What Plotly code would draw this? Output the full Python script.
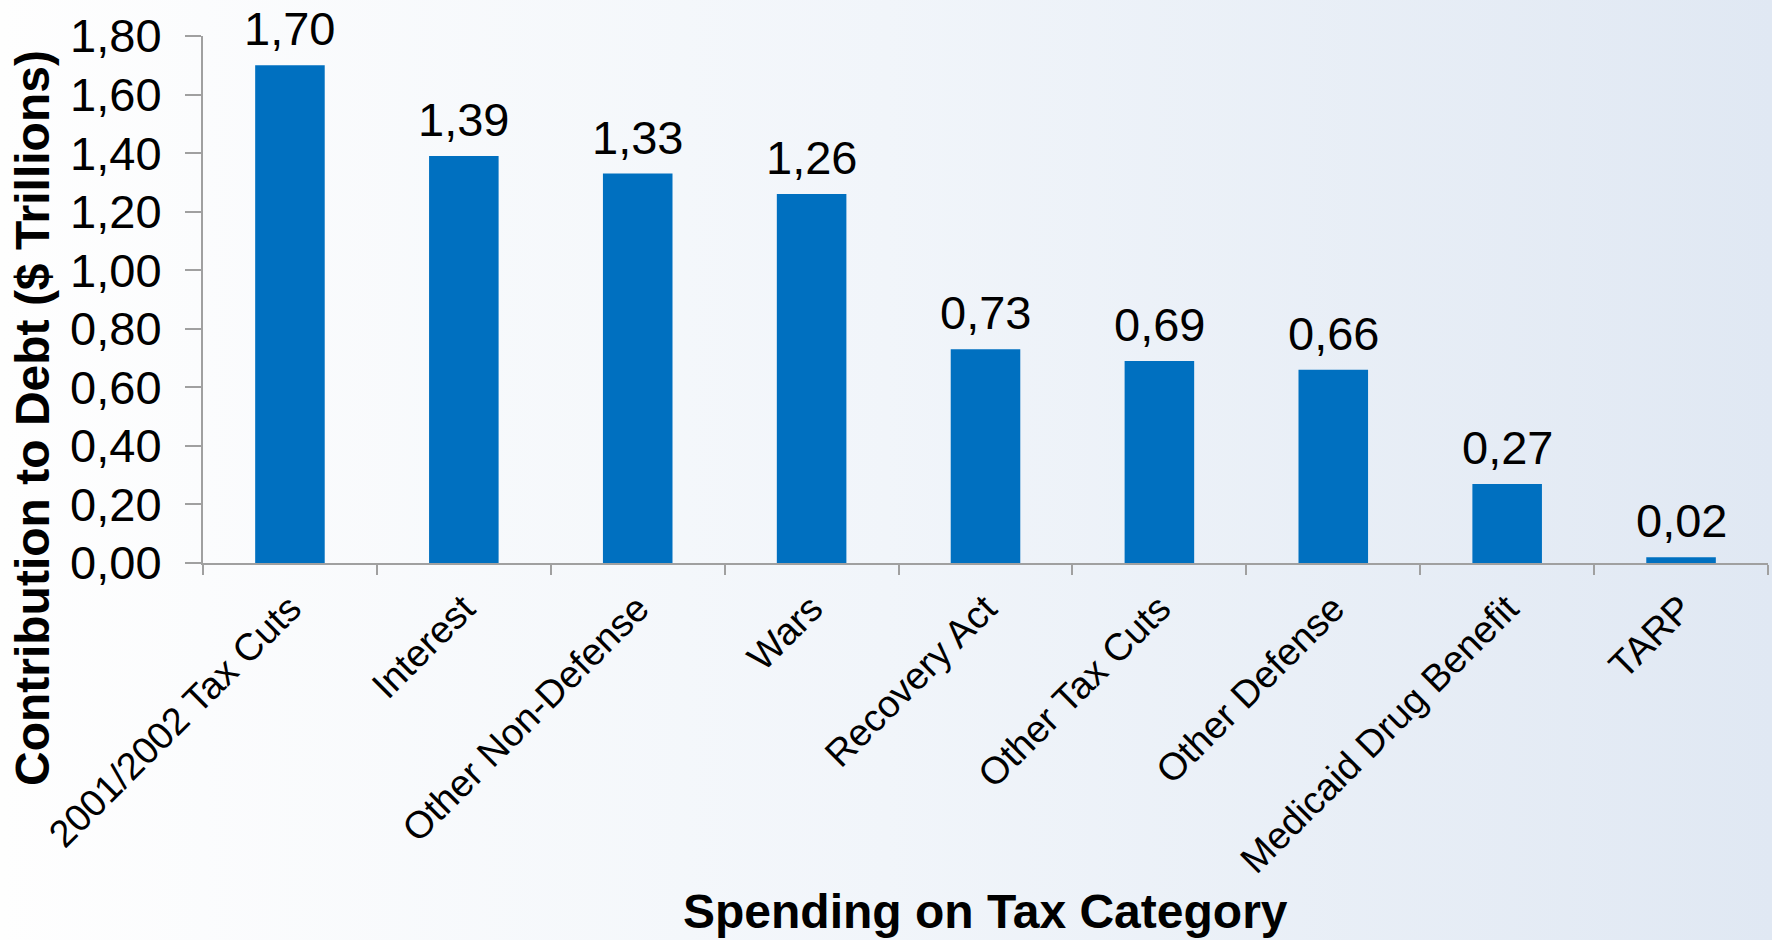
import plotly.graph_objects as go

# Contribution of each policy to the debt, in trillions of dollars
categories = [
    "2001/2002 Tax Cuts",
    "Interest",
    "Other Non-Defense",
    "Wars",
    "Recovery Act",
    "Other Tax Cuts",
    "Other Defense",
    "Medicaid Drug Benefit",
    "TARP",
]
debt_contribution = [1.70, 1.39, 1.33, 1.26, 0.73, 0.69, 0.66, 0.27, 0.02]
y_tick_values = [0.0, 0.2, 0.4, 0.6, 0.8, 1.0, 1.2, 1.4, 1.6, 1.8]

W, H = 1772, 940
M_L, M_R, M_T, M_B = 203, 4, 36, 377
PW, PH = W - M_L - M_R, H - M_T - M_B

FONT = "Liberation Sans, Arial, sans-serif"
AXIS_GRAY = "#a0a0a0"
BAR_BLUE = "#0070c0"

# Soft left-to-right background wash behind the whole figure
gradient_svg = (
    "<svg xmlns='http://www.w3.org/2000/svg' width='100' height='100' preserveAspectRatio='none'>"
    "<defs><linearGradient id='g' x1='0' y1='0' x2='1' y2='0'>"
    "<stop offset='0' stop-color='#fefefe'/>"
    "<stop offset='0.5' stop-color='#f1f5fa'/>"
    "<stop offset='1' stop-color='#e0e8f3'/>"
    "</linearGradient></defs>"
    "<rect width='100' height='100' fill='url(#g)'/></svg>"
)
gradient_uri = "data:image/svg+xml;charset=utf-8," + gradient_svg.replace("<", "%3C").replace(">", "%3E").replace("#", "%23")

fig = go.Figure(
    go.Bar(
        x=categories,
        y=debt_contribution,
        marker=dict(color=BAR_BLUE, line=dict(width=0)),
        width=0.4,
        cliponaxis=False,
        hoverinfo="skip",
    )
)

# Value labels above each bar, formatted with a decimal comma
value_labels = [
    dict(
        x=cat,
        y=val,
        xref="x",
        yref="y",
        text=f"{val:.2f}".replace(".", ","),
        showarrow=False,
        xanchor="center",
        yanchor="bottom",
        yshift=8,
        font=dict(family=FONT, size=47, color="black"),
    )
    for cat, val in zip(categories, debt_contribution)
]

axis_titles = [
    dict(
        text="<b>Contribution to Debt ($ Trillions)</b>",
        textangle=-90,
        xref="paper",
        yref="paper",
        x=(32 - M_L) / PW,
        y=(M_T + PH - 418) / PH,
        xanchor="center",
        yanchor="middle",
        showarrow=False,
        font=dict(family=FONT, size=48, color="black"),
    ),
    dict(
        text="<b>Spending on Tax Category</b>",
        xref="paper",
        yref="paper",
        x=0.5,
        y=(M_T + PH - 912) / PH,
        xanchor="center",
        yanchor="middle",
        showarrow=False,
        font=dict(family=FONT, size=48, color="black"),
    ),
]

fig.update_layout(
    width=W,
    height=H,
    margin=dict(l=M_L, r=M_R, t=M_T, b=M_B, autoexpand=False),
    paper_bgcolor="rgba(0,0,0,0)",
    plot_bgcolor="rgba(0,0,0,0)",
    separators=",.",
    showlegend=False,
    font=dict(family=FONT, color="black"),
    images=[
        dict(
            source=gradient_uri,
            xref="paper",
            yref="paper",
            x=-M_L / PW,
            y=1 + M_T / PH,
            sizex=W / PW,
            sizey=H / PH,
            sizing="stretch",
            xanchor="left",
            yanchor="top",
            layer="below",
        )
    ],
    annotations=value_labels + axis_titles,
)

fig.update_xaxes(
    type="category",
    showline=True,
    linecolor=AXIS_GRAY,
    linewidth=2,
    ticks="outside",
    tickson="boundaries",
    ticklen=10,
    tickwidth=2,
    tickcolor=AXIS_GRAY,
    tickangle=-45,
    tickfont=dict(family=FONT, size=38, color="black"),
    showgrid=False,
    zeroline=False,
    ticklabelstandoff=6,
)

fig.update_yaxes(
    range=[0, 1.8],
    tickvals=y_tick_values,
    tickformat=".2f",
    showline=True,
    linecolor=AXIS_GRAY,
    linewidth=2,
    ticks="outside",
    ticklen=16,
    tickwidth=2,
    tickcolor=AXIS_GRAY,
    tickfont=dict(family=FONT, size=47, color="black"),
    showgrid=False,
    zeroline=False,
    ticklabelstandoff=14,
)

fig.write_html("out.html")
